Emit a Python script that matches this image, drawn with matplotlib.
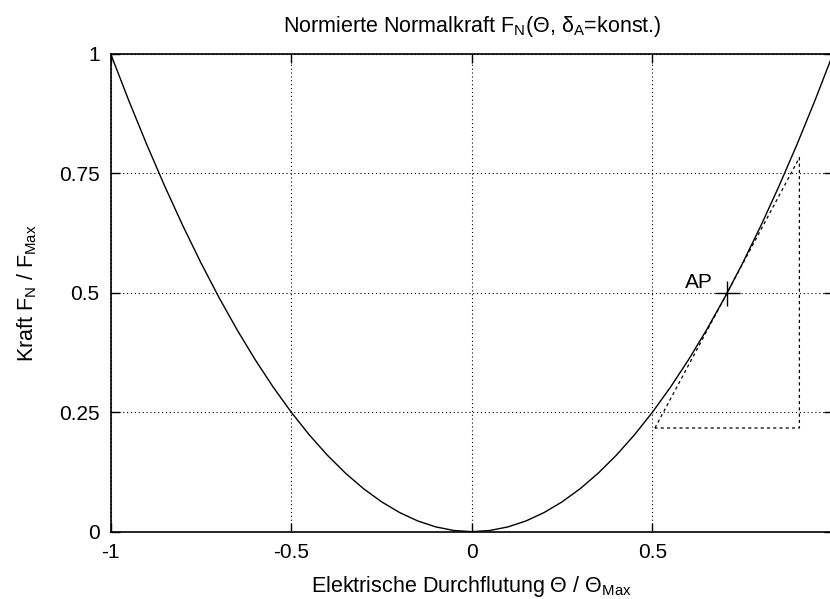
import matplotlib.pyplot as plt

plt.rcParams["font.family"] = ["Liberation Sans", "DejaVu Sans"]
plt.rcParams["mathtext.fontset"] = "custom"
plt.rcParams["mathtext.rm"] = "Liberation Sans"
plt.rcParams["mathtext.it"] = "Liberation Sans"

# normierte Kraftkennlinie F/Fmax ueber Theta/Thetamax
theta = [-1.00, -0.95, -0.90, -0.85, -0.80, -0.75, -0.70, -0.65, -0.60, -0.55,
         -0.50, -0.45, -0.40, -0.35, -0.30, -0.25, -0.20, -0.15, -0.10, -0.05,
         0.00, 0.05, 0.10, 0.15, 0.20, 0.25, 0.30, 0.35, 0.40, 0.45,
         0.50, 0.55, 0.60, 0.65, 0.70, 0.75, 0.80, 0.85, 0.90, 0.95, 1.00]
force = [1.0000, 0.9025, 0.8100, 0.7225, 0.6400, 0.5625, 0.4900, 0.4225, 0.3600, 0.3025,
         0.2500, 0.2025, 0.1600, 0.1225, 0.0900, 0.0625, 0.0400, 0.0225, 0.0100, 0.0025,
         0.0000, 0.0025, 0.0100, 0.0225, 0.0400, 0.0625, 0.0900, 0.1225, 0.1600, 0.2025,
         0.2500, 0.3025, 0.3600, 0.4225, 0.4900, 0.5625, 0.6400, 0.7225, 0.8100, 0.9025, 1.0000]

# Arbeitspunkt und Steigungsdreieck
ap_x = 0.707
ap_y = 0.5
tri_x = [0.507, 0.907, 0.907, 0.507]
tri_y = [0.217, 0.783, 0.217, 0.217]

xticks = [-1, -0.5, 0, 0.5]
xlabels = ["-1", "-0.5", "0", "0.5"]
yticks = [0, 0.25, 0.5, 0.75, 1]
ylabels = ["0", "0.25", "0.5", "0.75", "1"]

fig = plt.figure(figsize=(8.30, 5.99), dpi=100)
ax = fig.add_axes([0.1334, 0.1124, 0.8702, 0.7975])

ax.plot(theta, force, color="black", lw=1.0)
ax.plot(tri_x, tri_y, color="black", lw=0.9, linestyle=(0, (2.5, 2.5)))
ax.plot([ap_x], [ap_y], marker="+", markersize=18, markeredgewidth=1.0,
        color="black", linestyle="none")
ax.text(0.668, 0.51, "AP", ha="right", va="baseline", fontsize=15)

ax.set_xlim(-1, 1)
ax.set_ylim(0, 1)
ax.set_xticks(xticks)
ax.set_xticklabels(xlabels)
ax.set_yticks(yticks)
ax.set_yticklabels(ylabels)
ax.tick_params(direction="in", length=6.5, width=1.0, top=True, right=True,
               labelsize=15, pad=8)
ax.grid(True, color="black", lw=0.8, linestyle=(0, (1, 2.5)))
for s in ax.spines.values():
    s.set_linewidth(1.2)

ax.set_title(r"Normierte Normalkraft $\mathregular{F_N}$(Θ, $\mathregular{δ_A}$=konst.)",
             fontsize=15.5, pad=16)
ax.set_xlabel(r"Elektrische Durchflutung Θ / $\mathregular{Θ_{Max}}$", fontsize=15.5,
              labelpad=9)
ax.set_ylabel(r"Kraft $\mathregular{F_N}$ / $\mathregular{F_{Max}}$", fontsize=15.5,
              labelpad=14)

fig.savefig("out.png", dpi=100)
